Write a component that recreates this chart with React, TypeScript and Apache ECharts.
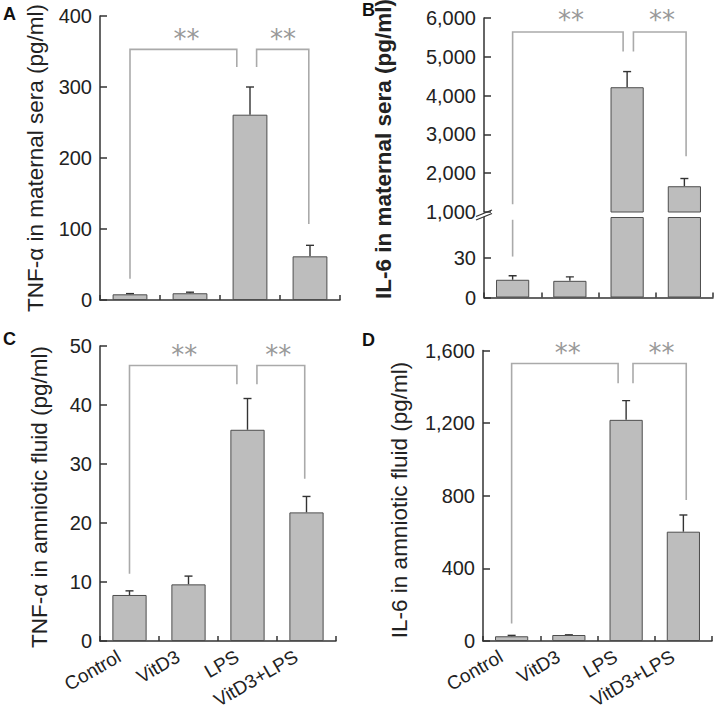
import React, { useEffect, useRef } from "react";
import * as echarts from "echarts";

const categories = ["Control", "VitD3", "LPS", "VitD3+LPS"];

// Panel A: TNF-α in maternal sera (pg/ml)
const tnfSeraMean = [8, 9.5, 261, 61.5];
const tnfSeraErr = [1, 1.5, 39, 15.5];
// Panel B: IL-6 in maternal sera (pg/ml)
const il6SeraMean = [13.3, 12.5, 4216, 1664];
const il6SeraErr = [3, 3, 403, 199];
// Panel C: TNF-α in amniotic fluid (pg/ml)
const tnfFluidMean = [7.8, 9.6, 35.8, 21.8];
const tnfFluidErr = [0.7, 1.4, 5.3, 2.7];
// Panel D: IL-6 in amniotic fluid (pg/ml)
const il6FluidMean = [26, 33, 1218, 602];
const il6FluidErr = [5, 1, 106, 92];

// significance brackets: [xFrom, xTo, top, leftLegEnd, rightLegEnd] (x in category units)
const bracketsA = [[0, 1.78, 353, 30, 328], [2.11, 2.98, 353, 328, 107]];
const starsA = [[0.94, 368], [2.55, 368]];
const bracketsBUpper = [[0, 1.93, 5638, 1199, 5137], [2.11, 3.03, 5638, 5137, 2440]];
const bracketsBLower = [[0, 0, 58.3, 30.7, 58.3]];
const starsB = [[1.02, 5960], [2.61, 5960]];
const bracketsC = [[0, 1.82, 46.7, 11.4, 43.5], [2.16, 2.97, 46.7, 43.5, 27.5]];
const starsC = [[0.93, 48.5], [2.52, 48.5]];
const bracketsD = [[0, 1.86, 1528, 97, 1420], [2.12, 3.05, 1528, 1420, 777]];
const starsD = [[0.98, 1588], [2.62, 1588]];

const FONT = '"Liberation Sans", Arial, Helvetica, sans-serif';
const AXIS = "#333";
const fmt = (v: number) => Number(v).toLocaleString("en-US");

const errorItem = (params: any, api: any) => {
  const i = api.value(0);
  const m = api.value(1);
  const e = api.value(2);
  const p0 = api.coord([i, m]);
  const p1 = api.coord([i, m + e]);
  const half = 4;
  const st = { stroke: "#333", lineWidth: 1.4 };
  return {
    type: "group",
    children: [
      { type: "line", shape: { x1: p0[0], y1: p0[1], x2: p1[0], y2: p1[1] }, style: st },
      { type: "line", shape: { x1: p1[0] - half, y1: p1[1], x2: p1[0] + half, y2: p1[1] }, style: st },
    ],
  };
};

const bracketItem = (params: any, api: any) => {
  const x1 = api.value(0), x2 = api.value(1), top = api.value(2), l = api.value(3), r = api.value(4);
  const points = [api.coord([x1, l]), api.coord([x1, top]), api.coord([x2, top]), api.coord([x2, r])];
  return { type: "polyline", shape: { points }, style: { stroke: "#aaa", lineWidth: 1.6, fill: null } };
};

const starItem = (params: any, api: any) => {
  const p = api.coord([api.value(0), api.value(1)]);
  return {
    type: "text",
    x: p[0],
    y: p[1],
    style: { text: "**", fill: "#999", fontSize: 26, fontFamily: '"DejaVu Sans", sans-serif', align: "center", verticalAlign: "middle" },
  };
};

function buildOption() {
  const grids: any[] = [];
  const xAxes: any[] = [];
  const yAxes: any[] = [];
  const series: any[] = [];

  function addPanel(p: any) {
    const g = grids.length;
    grids.push({ left: p.rect[0], top: p.rect[1], width: p.rect[2], height: p.rect[3] });
    xAxes.push({
      type: "category",
      gridIndex: g,
      data: categories,
      show: p.showCatAxis,
      boundaryGap: true,
      axisLine: { show: true, onZero: false, lineStyle: { color: AXIS, width: 1.5 } },
      axisTick: { show: true, inside: true, length: 5, lineStyle: { color: AXIS, width: 1.5 } },
      axisLabel: {
        show: p.showLabels, interval: 0, rotate: 30, margin: 8, fontSize: 19, color: "#222", fontFamily: FONT,
        padding: [0, 12, 0, 0],
      },
      splitLine: { show: false },
    });
    xAxes.push({ type: "value", gridIndex: g, min: -0.5, max: 3.5, show: false, axisLine: { onZero: false } });
    yAxes.push({
      type: "value",
      gridIndex: g,
      min: p.min,
      max: p.max,
      interval: p.interval,
      axisLine: { show: true, onZero: false, lineStyle: { color: AXIS, width: 1.5 } },
      axisTick: { show: true, inside: true, length: 7, lineStyle: { color: AXIS, width: 1.5 } },
      axisLabel: { fontSize: 20, color: "#222", fontFamily: FONT, margin: 8, formatter: fmt, showMaxLabel: p.showMaxLabel !== false },
      splitLine: { show: false },
    });
    const xi = 2 * g;
    series.push({
      type: "bar",
      xAxisIndex: xi,
      yAxisIndex: g,
      data: p.means,
      barWidth: "58%",
      clip: true,
      itemStyle: { color: "#bdbdbd", borderColor: "#4d4d4d", borderWidth: 1 },
    });
    series.push({
      type: "custom",
      xAxisIndex: xi,
      yAxisIndex: g,
      clip: true,
      data: p.means.map((m: number, i: number) => [i, m, p.errs[i]]),
      encode: { x: 0, y: 1 },
      renderItem: errorItem,
    });
    if (p.brackets)
      series.push({ type: "custom", xAxisIndex: xi + 1, yAxisIndex: g, data: p.brackets, encode: { x: 0, y: 2 }, renderItem: bracketItem });
    if (p.stars)
      series.push({ type: "custom", xAxisIndex: xi + 1, yAxisIndex: g, data: p.stars, encode: { x: 0, y: 1 }, renderItem: starItem });
  }

  addPanel({ rect: [100, 16, 240, 284], min: 0, max: 400, interval: 100, showCatAxis: true, showLabels: false,
    means: tnfSeraMean, errs: tnfSeraErr, brackets: bracketsA, stars: starsA });
  addPanel({ rect: [484, 18, 229, 194], min: 1000, max: 6000, interval: 1000, showCatAxis: false, showLabels: false,
    means: il6SeraMean, errs: il6SeraErr, brackets: bracketsBUpper, stars: starsB });
  addPanel({ rect: [484, 217.5, 229, 80], min: 0, max: 60, interval: 30, showCatAxis: true, showLabels: false, showMaxLabel: false,
    means: il6SeraMean, errs: il6SeraErr, brackets: bracketsBLower });
  addPanel({ rect: [100, 346, 236, 295], min: 0, max: 50, interval: 10, showCatAxis: true, showLabels: true,
    means: tnfFluidMean, errs: tnfFluidErr, brackets: bracketsC, stars: starsC });
  addPanel({ rect: [483, 350.5, 229, 290.5], min: 0, max: 1600, interval: 400, showCatAxis: true, showLabels: true,
    means: il6FluidMean, errs: il6FluidErr, brackets: bracketsD, stars: starsD });

  const titleStyle = (text: string, bold = false) => ({
    text,
    fontSize: 22.5,
    fontFamily: FONT,
    fontWeight: bold ? "bold" : "normal",
    fill: "#222",
    align: "center",
    verticalAlign: "middle",
  });
  const panelLabel = (text: string, x: number, y: number) => ({
    type: "text",
    x,
    y,
    style: { text, fontSize: 18, fontWeight: "bold", fontFamily: FONT, fill: "#111", align: "left", verticalAlign: "middle" },
  });

  const graphic = [
    panelLabel("A", 3, 14),
    panelLabel("B", 362, 10),
    panelLabel("C", 3, 339),
    panelLabel("D", 362, 340),
    { type: "text", x: 35, y: 158, rotation: Math.PI / 2, style: titleStyle("TNF-α in maternal sera (pg/ml)") },
    { type: "text", x: 383, y: 149, rotation: Math.PI / 2, style: titleStyle("IL-6 in maternal sera (pg/ml)", true) },
    { type: "text", x: 39, y: 497, rotation: Math.PI / 2, style: titleStyle("TNF-α in amniotic fluid (pg/ml)") },
    { type: "text", x: 399, y: 500, rotation: Math.PI / 2, style: titleStyle("IL-6 in amniotic fluid (pg/ml)") },
    { type: "line", shape: { x1: 476, y1: 216.5, x2: 492, y2: 210 }, style: { stroke: AXIS, lineWidth: 1.3 } },
    { type: "line", shape: { x1: 476, y1: 220, x2: 492, y2: 213.5 }, style: { stroke: AXIS, lineWidth: 1.3 } },
  ];

  return { animation: false, backgroundColor: "#fff", grid: grids, xAxis: xAxes, yAxis: yAxes, series, graphic };
}

export default function App() {
  const ref = useRef<HTMLDivElement>(null);
  useEffect(() => {
    const chart = echarts.init(ref.current!, null, { renderer: "svg" });
    chart.setOption(buildOption() as any);
    return () => chart.dispose();
  }, []);
  return <div ref={ref} style={{ position: "fixed", left: 0, top: 0, width: 720, height: 715, background: "#fff" }} />;
}
